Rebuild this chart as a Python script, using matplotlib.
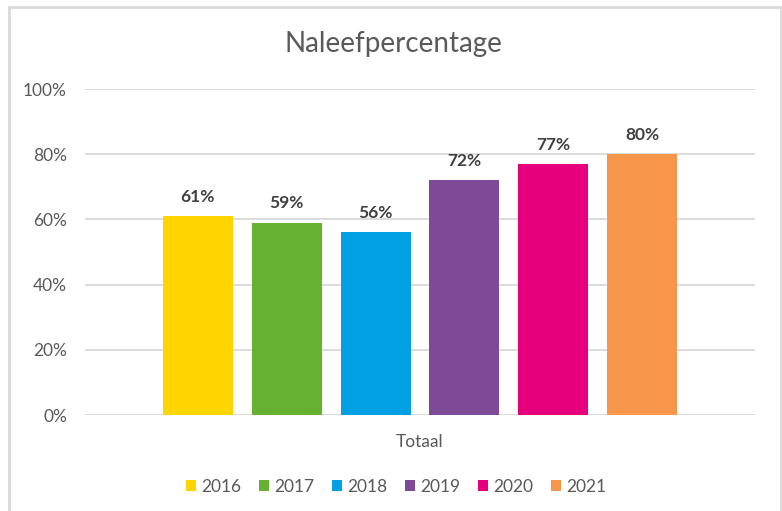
import matplotlib.pyplot as plt
from matplotlib.patches import Rectangle
from matplotlib.ticker import PercentFormatter

plt.rcParams['font.family'] = ['Lato', 'DejaVu Sans']

years = ['2016', '2017', '2018', '2019', '2020', '2021']
values = [0.61, 0.59, 0.56, 0.72, 0.77, 0.80]
labels = ['61%', '59%', '56%', '72%', '77%', '80%']
colors = ['#FFD500', '#66B032', '#00A0E3', '#804998', '#E6007E', '#F7964A']
category = 'Totaal'

fig = plt.figure(figsize=(7.82, 5.11), dpi=100)
ax = fig.add_axes([85 / 782, 1 - 415 / 511, 670 / 782, 326 / 511])

width = 0.1045
step = 0.1328
for i, (yr, v, lab, c) in enumerate(zip(years, values, labels, colors)):
    x = (i - 2.5) * step
    ax.bar(x, v, width=width, color=c, label=yr, zorder=3)
    ax.text(x, v + 0.035, lab, ha='center', va='bottom', fontsize=12.5,
            fontweight='bold', color='#404040')

ax.set_xlim(-0.5, 0.5)
ax.set_ylim(0, 1)
ax.set_yticks([0, 0.2, 0.4, 0.6, 0.8, 1.0])
ax.yaxis.set_major_formatter(PercentFormatter(1.0, decimals=0))
ax.set_xticks([0])
ax.set_xticklabels([category])
ax.tick_params(length=0, labelsize=12.5, labelcolor='#595959')
ax.tick_params(axis='y', pad=13)
ax.tick_params(axis='x', pad=14)
ax.grid(axis='y', color='#D9D9D9', linewidth=1.3, zorder=0)
for s in ax.spines.values():
    s.set_visible(False)

fig.text(393 / 782, 1 - 44 / 511, 'Naleefpercentage', ha='center', va='center',
         fontsize=20, color='#595959')

ax.legend(loc='center', bbox_to_anchor=((396 - 85) / 670, (415 - 487) / 326), ncol=6,
          frameon=False, fontsize=12.5, handlelength=0.6, handleheight=0.6,
          handletextpad=0.3, columnspacing=1.0, labelcolor='#595959')

fig.patches.append(Rectangle((9 / 782, -0.05), 772 / 782, 1.05 - 7 / 511,
                             transform=fig.transFigure, fill=False,
                             edgecolor='#D9D9D9', linewidth=2))

fig.savefig('out.png', dpi=100)
